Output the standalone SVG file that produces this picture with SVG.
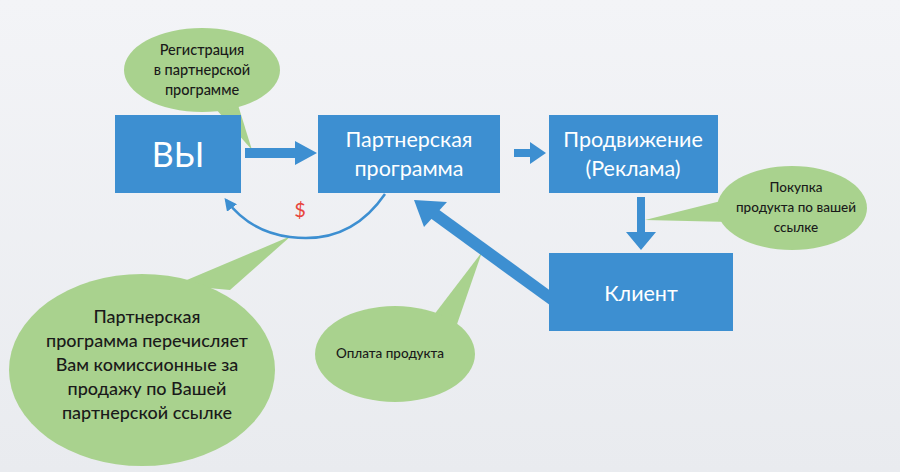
<svg xmlns="http://www.w3.org/2000/svg" width="900" height="472" viewBox="0 0 900 472">
<defs>
<linearGradient id="bg" x1="0" y1="0" x2="0" y2="1"><stop offset="0" stop-color="#f3f4f7"/><stop offset="1" stop-color="#e9ebef"/></linearGradient>
<marker id="ah" viewBox="0 0 10 10" refX="8" refY="5" markerWidth="5" markerHeight="5" orient="auto-start-reverse"><path d="M0,0 L10,5 L0,10 z" fill="#3d8fd1"/></marker>
</defs>
<style>
.box{fill:#3d8fd1}
.bt{font-family:"Lato","Open Sans",sans-serif;fill:#fff;text-anchor:middle}
.call{fill:#a9d28e}
.ct{font-family:"Lato","Open Sans",sans-serif;fill:#1a1a1a;text-anchor:middle;font-weight:500}
.ar{fill:#3d8fd1}
</style>
<rect width="900" height="472" fill="url(#bg)"/>
<g id="callout-reg"><path class="call" d="M215,108 L252,150 L238,105 z"/><ellipse class="call" cx="202" cy="70" rx="78" ry="42"/>
<text class="ct" font-size="14.5"><tspan x="202" y="55">Регистрация</tspan><tspan x="202" y="75">в партнерской</tspan><tspan x="202" y="95">программе</tspan></text></g>
<g id="callout-buy"><path class="call" d="M725,200 L645,220 L730,222 z"/><ellipse class="call" cx="792" cy="208" rx="75" ry="42"/>
<text class="ct" font-size="13.5"><tspan x="796" y="192">Покупка</tspan><tspan x="796" y="212">продукта по вашей</tspan><tspan x="796" y="232">ссылке</tspan></text></g>
<g id="callout-pay"><path class="call" d="M430,320 L482,252 L455,330 z"/><ellipse class="call" cx="395" cy="354" rx="80" ry="48"/>
<text class="ct" font-size="13.5"><tspan x="390" y="358">Оплата продукта</tspan></text></g>
<g id="callout-comm"><path class="call" d="M175,285 L291,236 L230,290 z"/><ellipse class="call" cx="142" cy="370" rx="133" ry="96"/>
<text class="ct" font-size="18"><tspan x="147" y="323">Партнерская</tspan><tspan x="147" y="347">программа перечисляет</tspan><tspan x="147" y="371">Вам комиссионные за</tspan><tspan x="147" y="395">продажу по Вашей</tspan><tspan x="147" y="419">партнерской ссылке</tspan></text></g>
<g id="connectors">
<path class="ar" d="M245,148 L295,148 L295,141 L317,153 L295,165 L295,158 L245,158 z"/>
<path class="ar" d="M514,149 L530,149 L530,142 L546,153 L530,164 L530,157 L514,157 z"/>
<path class="ar" d="M637,197 L645,197 L645,232 L656,232 L641,250 L626,232 L637,232 z"/>
<path d="M553,300 L432,212" stroke="#3d8fd1" stroke-width="12" fill="none"/>
<path class="ar" d="M414,200 L447,202 L424,227 z"/>
<path d="M385,194 Q350,245 290,237 Q250,232 226,200" stroke="#3d8fd1" stroke-width="2.5" fill="none" marker-end="url(#ah)"/>
<text x="300" y="217" font-family="Lato,sans-serif" font-size="20" fill="#e8453c" text-anchor="middle">$</text>
</g>
<g id="node-you"><rect class="box" x="115" y="115" width="126" height="78"/><text class="bt" x="178" y="167" font-size="34">ВЫ</text></g>
<g id="node-pp"><rect class="box" x="318" y="115" width="182" height="78"/><text class="bt" font-size="21.5"><tspan x="409" y="147">Партнерская</tspan><tspan x="409" y="176">программа</tspan></text></g>
<g id="node-promo"><rect class="box" x="549" y="115" width="169" height="78"/><text class="bt" font-size="21.5"><tspan x="633" y="147">Продвижение</tspan><tspan x="633" y="176">(Реклама)</tspan></text></g>
<g id="node-client"><rect class="box" x="549" y="253" width="184" height="78"/><text class="bt" x="641" y="301" font-size="21.5">Клиент</text></g>
</svg>
